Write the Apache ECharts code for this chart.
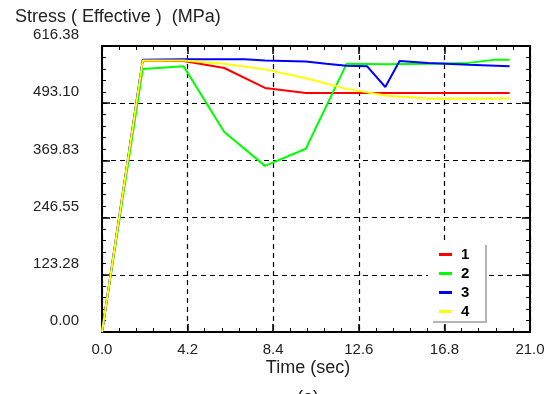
<!DOCTYPE html>
<html><head><meta charset="utf-8">
<script src="https://cdn.jsdelivr.net/npm/echarts@6/dist/echarts.min.js"></script>
<style>html,body{margin:0;padding:0;background:#fff}#c{width:552px;height:394px}</style>
</head><body><div id="c"></div>
<script>
const seriesNames = ['1', '2', '3', '4'];
const seriesColors = ['#ff0000', '#00ff00', '#0000ff', '#ffff00'];
const s1Time = [0, 2, 4, 6, 8, 10, 12, 14, 16, 18, 20];
const s1Stress = [0, 585, 584, 569, 526, 515, 515, 515, 515, 515, 515];
const s2Time = [0, 2, 4, 6, 8, 10, 12, 14, 16, 18, 19.3, 20];
const s2Stress = [0, 567, 573, 431, 358, 395, 578, 577, 578, 580, 587, 587];
const s3Time = [0, 2, 4, 7, 8, 10, 11, 12, 13, 13.9, 14.6, 16, 18, 20];
const s3Stress = [0, 587, 588, 588, 585, 583, 578, 574, 573, 528, 584, 580, 576, 573];
const s4Time = [0, 2, 4, 6, 8, 10, 12, 14, 16, 18, 20];
const s4Stress = [0, 585, 585, 578, 566, 547, 524, 509, 503, 503, 503];
const xTickLabels = ['0.0', '4.2', '8.4', '12.6', '16.8', '21.0'];
const yTickLabels = ['0.00', '123.28', '246.55', '369.83', '493.10', '616.38'];
const titleText = 'Stress ( Effective )  (MPa)';
const xTitleText = 'Time (sec)';

const FONT = '"Liberation Sans", Arial, sans-serif';
const xMax = 21, xInterval = 4.2, yMax = 616.38, yInterval = 123.276;

const pair = (t, v) => t.map((x, i) => [x, v[i]]);
const allData = [pair(s1Time, s1Stress), pair(s2Time, s2Stress), pair(s3Time, s3Stress), pair(s4Time, s4Stress)];

function xAxisDef(pos, main) {
  return {
    type: 'value', position: pos, min: 0, max: xMax, interval: xInterval,
    axisLine: { show: true, onZero: false, lineStyle: { color: '#000', width: 2 } },
    axisTick: { show: true, inside: true, length: 8, lineStyle: { color: '#000', width: 1.5 } },
    minorTick: { show: true, splitNumber: 5, length: 4, lineStyle: { color: '#000', width: 1 } },
    splitLine: { show: main, lineStyle: { color: '#000', width: 1.2, type: [5, 4] } },
    axisLabel: {
      show: main, margin: 10, fontSize: 15, color: '#222', fontFamily: FONT,
      formatter: v => xTickLabels[Math.round(v / xInterval)]
    }
  };
}
function yAxisDef(pos, main) {
  return {
    type: 'value', position: pos, min: 0, max: yMax, interval: yInterval,
    axisLine: { show: true, onZero: false, lineStyle: { color: '#000', width: 2 } },
    axisTick: { show: true, inside: true, length: 8, lineStyle: { color: '#000', width: 1.5 } },
    minorTick: { show: true, splitNumber: 5, length: 4, lineStyle: { color: '#000', width: 1 } },
    splitLine: { show: main, lineStyle: { color: '#000', width: 1.2, type: [5, 4] } },
    axisLabel: {
      show: main, margin: 23, fontSize: 15, color: '#222', fontFamily: FONT,
      verticalAlign: 'bottom', lineHeight: 22,
      formatter: v => yTickLabels[Math.round(v / yInterval)]
    }
  };
}

const chart = echarts.init(document.getElementById('c'), null, { renderer: 'canvas' });
chart.setOption({
  animation: false,
  backgroundColor: '#fff',
  grid: { left: 102, right: 22, top: 46, bottom: 62, containLabel: false },
  xAxis: [xAxisDef('bottom', true), xAxisDef('top', false)],
  yAxis: [yAxisDef('left', true), yAxisDef('right', false)],
  legend: {
    data: seriesNames, orient: 'vertical', left: 439, top: 247, padding: 0,
    icon: 'rect', itemWidth: 13, itemHeight: 3, itemGap: 4, z: 6,
    textStyle: { fontSize: 15, fontWeight: 'bold', color: '#000', fontFamily: FONT, lineHeight: 15, padding: [0, 0, 0, 4] }
  },
  graphic: [
    { type: 'rect', z: 5, shape: { x: 428, y: 240, width: 58, height: 82 }, style: { fill: '#fff' } },
    { type: 'polyline', z: 5, shape: { points: [[433, 322], [486, 322], [486, 245]] }, style: { stroke: '#b4b4b4', lineWidth: 2, fill: null } },
    { type: 'text', z: 5, style: { text: titleText, x: 15, y: 8, font: '18px ' + FONT, fill: '#222', textAlign: 'left', textVerticalAlign: 'top', align: 'left', verticalAlign: 'top' } },
    { type: 'text', z: 5, style: { text: xTitleText, x: 308, y: 359, font: '18px ' + FONT, fill: '#222', textAlign: 'center', textVerticalAlign: 'top', align: 'center', verticalAlign: 'top' } },
    { type: 'text', z: 5, style: { text: '(a)', x: 308, y: 389, font: '18px ' + FONT, fill: '#222', textAlign: 'center', textVerticalAlign: 'top', align: 'center', verticalAlign: 'top' } }
  ],
  series: seriesNames.map((n, i) => ({
    name: n, type: 'line', data: allData[i], xAxisIndex: 0, yAxisIndex: 0,
    showSymbol: false, symbol: 'none', z: 2 + i,
    color: seriesColors[i],
    lineStyle: { color: seriesColors[i], width: 2 }
  }))
});
</script></body></html>
